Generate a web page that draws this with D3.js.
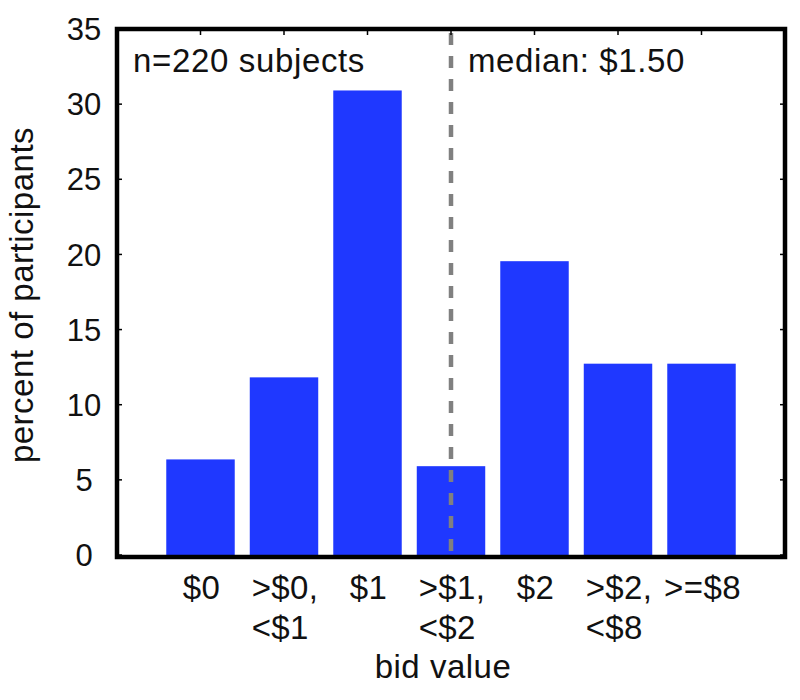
<!DOCTYPE html>
<html><head><meta charset="utf-8">
<script src="https://cdn.jsdelivr.net/npm/d3@7"></script>
<style>body{margin:0;background:#fff}text{font-family:"Liberation Sans",Arial,Helvetica,sans-serif;fill:#111}</style>
</head><body>
<svg id="c" width="800" height="700"></svg>
<script>
const categories = [["$0"], [">$0,", "<$1"], ["$1"], [">$1,", "<$2"], ["$2"], [">$2,", "<$8"], [">=$8"]];
const values = [6.36, 11.82, 30.91, 5.91, 19.55, 12.73, 12.73];
const yTicks = [0, 5, 10, 15, 20, 25, 30, 35];
const medianPos = 4; // $1.50 falls at the ">$1,<$2" category
const annotN = "n=220 subjects";
const annotMedian = "median: $1.50";

const svg = d3.select("#c");
const L = 117, R = 785, T = 29, B = 555;
const x = d3.scaleLinear().domain([0, categories.length + 1]).range([L, R]);
const y = d3.scaleLinear().domain([0, 35]).range([B, T]);
const bw = 0.82 * (x(1) - x(0));

// bars
svg.append("g").selectAll("rect").data(values).join("rect")
  .attr("x", (d, i) => x(i + 1) - bw / 2)
  .attr("width", bw)
  .attr("y", d => y(d))
  .attr("height", d => y(0) - y(d))
  .attr("fill", "#1f38ff");

// median line
svg.append("line")
  .attr("x1", x(medianPos)).attr("x2", x(medianPos))
  .attr("y1", y(35) + 4).attr("y2", y(0))
  .attr("stroke", "#808080").attr("stroke-width", 4.5)
  .attr("stroke-dasharray", "12,11");

// ticks (inward)
const tk = svg.append("g").attr("stroke", "#000").attr("stroke-width", 1.5);
yTicks.forEach(v => {
  tk.append("line").attr("x1", L).attr("x2", L + 5).attr("y1", y(v)).attr("y2", y(v));
  tk.append("line").attr("x1", R).attr("x2", R - 5).attr("y1", y(v)).attr("y2", y(v));
});
categories.forEach((c, i) => {
  tk.append("line").attr("x1", x(i + 1)).attr("x2", x(i + 1)).attr("y1", T).attr("y2", T + 6);
});

// frame
svg.append("rect").attr("x", L).attr("y", T).attr("width", R - L).attr("height", 557 - T)
  .attr("fill", "none").attr("stroke", "#000").attr("stroke-width", 4.5);

// y tick labels
svg.append("g").selectAll("text").data(yTicks).join("text")
  .attr("x", 84).attr("y", d => y(d)).attr("dy", "0.36em")
  .attr("text-anchor", "middle").attr("font-size", 31)
  .text(d => d);

// x category labels (left aligned block, centered on the bar)
const xl = svg.append("g").attr("font-size", 33).attr("letter-spacing", 0.4);
categories.forEach((c, i) => {
  const g = xl.append("text").attr("y", 599);
  c.forEach((line, k) => {
    g.append("tspan").attr("x", 0).attr("dy", k === 0 ? 0 : 40).text(line);
  });
  const w = g.node().getBBox().width;
  g.selectAll("tspan").attr("x", x(i + 1) - w / 2 + 1);
});

// axis titles
svg.append("text").attr("x", 443).attr("y", 678).attr("text-anchor", "middle")
  .attr("font-size", 33).attr("letter-spacing", 0.5).text("bid value");
svg.append("text").attr("transform", "translate(33,295) rotate(-90)")
  .attr("text-anchor", "middle").attr("font-size", 33).attr("letter-spacing", 0.5)
  .text("percent of participants");

// annotations
svg.append("text").attr("x", 133).attr("y", 72).attr("font-size", 33)
  .attr("letter-spacing", 0.65).text(annotN);
svg.append("text").attr("x", 468).attr("y", 72).attr("font-size", 33)
  .attr("letter-spacing", 0.6).text(annotMedian);
</script>
</body></html>
